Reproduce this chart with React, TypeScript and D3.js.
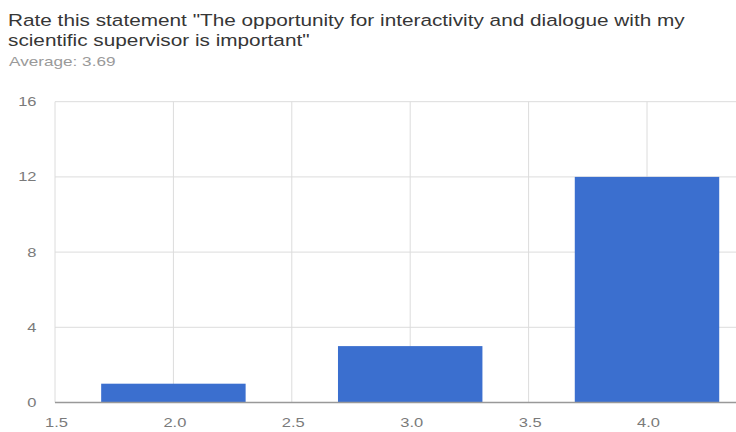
import React from "react";
import * as d3 from "d3";

// Rating responses: rating value and number of respondents
const ratings = [2, 3, 4];
const counts = [1, 3, 12];
const xTicks = [1.5, 2.0, 2.5, 3.0, 3.5, 4.0];
const yTicks = [0, 4, 8, 12, 16];
const titleLines = [
  'Rate this statement "The opportunity for interactivity and dialogue with my',
  'scientific supervisor is important"',
];
const subtitle = "Average: 3.69";

const W = 736;
const H = 432;

type LabelProps = {
  x: number;
  y: number;
  sx: number;
  size: number;
  fill: string;
  anchor?: "start" | "middle" | "end";
  dy?: string;
  children: React.ReactNode;
};

// Text drawn with a horizontal stretch around its anchor point
function Label({ x, y, sx, size, fill, anchor = "start", dy, children }: LabelProps) {
  return (
    <text
      transform={`translate(${x},${y}) scale(${sx},1)`}
      textAnchor={anchor}
      dy={dy}
      fontSize={size}
      fill={fill}
    >
      {children}
    </text>
  );
}

export default function App() {
  const x = d3.scaleLinear().domain([1.5, 4.5]).range([55, 55 + 3 * 236.8]);
  const y = d3.scaleLinear().domain([0, 16]).range([402.5, 101.7]);
  const halfBar = 0.305;
  const gridX = d3.range(1.5, 4.51, 0.5);
  const font = "'Liberation Sans', Arial, sans-serif";
  const tickSx = 1.32;

  return (
    <svg
      width={W}
      height={H}
      style={{ position: "absolute", left: 0, top: 0, background: "#fff" }}
      fontFamily={font}
    >
      {/* title */}
      {titleLines.map((t, i) => (
        <Label key={i} x={8} y={25.8 + i * 20.2} sx={1.222} size={17} fill="#363636">
          {t}
        </Label>
      ))}
      <Label x={9} y={66} sx={1.32} size={13} fill="#9a9a9a">
        {subtitle}
      </Label>

      {/* horizontal gridlines */}
      {yTicks.map((v) => (
        <line
          key={"h" + v}
          x1={x(1.5)}
          x2={W}
          y1={y(v)}
          y2={y(v)}
          stroke="#dcdcdc"
          strokeWidth={1}
        />
      ))}
      {/* vertical gridlines */}
      {gridX.map((v) => (
        <line
          key={"v" + v}
          x1={x(v)}
          x2={x(v)}
          y1={y(16)}
          y2={y(0)}
          stroke="#dcdcdc"
          strokeWidth={1}
        />
      ))}

      {/* bars */}
      {ratings.map((r, i) => (
        <rect
          key={r}
          x={x(r - halfBar)}
          width={x(r + halfBar) - x(r - halfBar)}
          y={y(counts[i])}
          height={y(0) - y(counts[i])}
          fill="#3b6fcf"
        />
      ))}
      <line x1={x(1.5)} x2={W} y1={y(0)} y2={y(0)} stroke="#999" strokeWidth={1.6} />

      {/* y tick labels */}
      {yTicks.map((v) => (
        <Label
          key={"yl" + v}
          x={36.5}
          y={y(v)}
          dy="0.36em"
          anchor="end"
          sx={tickSx}
          size={12.5}
          fill="#7a7a7a"
        >
          {v}
        </Label>
      ))}
      {/* x tick labels */}
      {xTicks.map((v) => (
        <Label
          key={"xl" + v}
          x={x(v) + 1.5}
          y={426.5}
          anchor="middle"
          sx={tickSx}
          size={12.5}
          fill="#7a7a7a"
        >
          {v.toFixed(1)}
        </Label>
      ))}
    </svg>
  );
}
